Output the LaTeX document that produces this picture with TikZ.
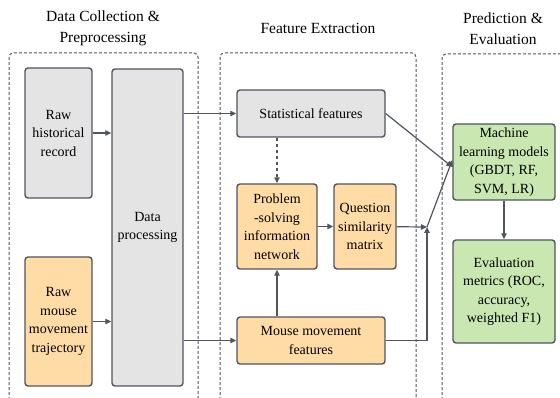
\documentclass[tikz,border=0pt]{standalone}
\usepackage{fontspec}
\setmainfont{Liberation Serif}
\newfontfamily\diagfont{Liberation Serif}
\usetikzlibrary{arrows.meta}
\definecolor{edgegray}{HTML}{505560}
\definecolor{boxgray}{HTML}{E4E4E4}
\definecolor{boxorange}{HTML}{FFDBA6}
\definecolor{boxgreen}{HTML}{C9E7B0}
\tikzset{
  stagebox/.style={draw=edgegray, line width=1pt, dashed, dash pattern=on 3pt off 2pt, rounded corners=4pt},
  procbox/.style={draw=edgegray, line width=1.4pt, rounded corners=3pt, align=center, inner sep=1pt,
    font=\diagfont\fontsize{14}{18.5}\selectfont},
  graybox/.style={procbox, fill=boxgray},
  orangebox/.style={procbox, fill=boxorange},
  greenbox/.style={procbox, fill=boxgreen},
  stagetitle/.style={align=center, font=\diagfont\fontsize{15.5}{21}\selectfont},
  flow/.style={draw=edgegray, line width=1.2pt, -{Triangle[width=5.5pt,length=6pt]}}
}
\begin{document}
\begin{tikzpicture}[x=1pt,y=-1pt]
\useasboundingbox (0,0) rectangle (560,398);
%
\draw[stagebox] (9,405) -- (9,53) -- (198,53) -- (198,405);
\draw[stagebox] (220,405) -- (220,53) -- (416,53) -- (416,405);
\draw[stagebox] (442,405) -- (442,54) -- (570,54);
%
\node[stagetitle] (titleprep) at (103,28) {Data Collection \&\\Preprocessing};
\node[stagetitle] (titlefeat) at (318,28) {Feature Extraction};
\node[stagetitle] (titlepred) at (503,29) {Prediction \&\\Evaluation};
%
\node[graybox, minimum width=67pt, minimum height=130pt] (rawhist) at (58.5,133) {Raw\\historical\\record};
\node[orangebox, minimum width=67pt, minimum height=129pt] (rawmouse) at (58.5,321.5) {Raw\\mouse\\movement\\trajectory};
\node[graybox, minimum width=71pt, minimum height=317pt] (dataproc) at (147.5,227.5) {Data\\processing};
%
\node[graybox, minimum width=148pt, minimum height=47pt] (statfeat) at (311,113.5) {Statistical features};
\node[orangebox, minimum width=80pt, minimum height=85pt] (psnet) at (277,226.5) {Problem\\-solving\\information\\network};
\node[orangebox, minimum width=62pt, minimum height=85pt] (qsim) at (365,226.5) {Question\\similarity\\matrix};
\node[orangebox, minimum width=148pt, minimum height=47pt] (mousefeat) at (311,340.5) {Mouse movement\\features};
%
\node[greenbox, minimum width=102pt, minimum height=76pt] (mlmodel) at (504,162) {Machine\\learning models\\(GBDT, RF,\\SVM, LR)};
\node[greenbox, minimum width=102pt, minimum height=103pt] (evalmet) at (504,291.5) {Evaluation\\metrics (ROC,\\accuracy,\\weighted F1)};
%
\coordinate (merge) at (427,227);
%
\draw[flow] (rawhist) -- (rawhist -| dataproc.west);
\draw[flow] (rawmouse) -- (rawmouse -| dataproc.west);
\draw[flow] (dataproc.east |- statfeat) -- (statfeat.west);
\draw[flow] (dataproc.east |- mousefeat) -- (mousefeat.west);
%
\draw[flow, dashed, dash pattern=on 3.5pt off 2.5pt] (statfeat.south -| psnet) -- (psnet.north);
\draw[flow] (mousefeat.north -| psnet) -- (psnet.south);
\draw[flow] (psnet) -- (qsim);
\draw[flow] (qsim) -- (merge);
\draw[flow] (mousefeat.east) -| (merge);
%
\draw[flow] (statfeat.east) -- ([yshift=-5pt]mlmodel.west);
\draw[flow] (merge) -- ([yshift=2pt]mlmodel.west);
\draw[flow] (mlmodel) -- (evalmet);
\end{tikzpicture}
\end{document}
